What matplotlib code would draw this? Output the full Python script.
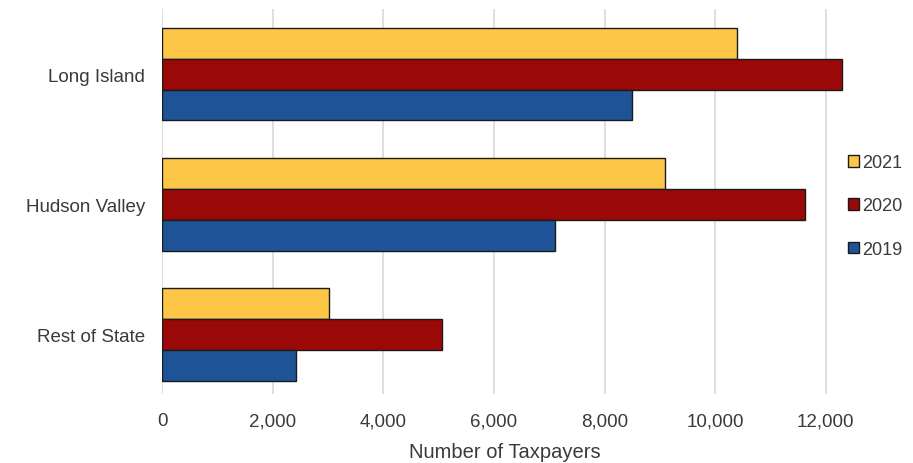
import numpy as np
import matplotlib
matplotlib.use("Agg")
import matplotlib.pyplot as plt

plt.rcParams['font.family'] = ['Liberation Sans', 'DejaVu Sans']

# values
regions = ["Long Island", "Hudson Valley", "Rest of State"]
years = ["2021", "2020", "2019"]
vals_2021 = [10400, 9100, 3020]
vals_2020 = [12300, 11620, 5060]
vals_2019 = [8500, 7100, 2420]
colors = {"2021": "#FDC646", "2020": "#9A0808", "2019": "#1E5398"}
xticks = [0, 2000, 4000, 6000, 8000, 10000, 12000]

series = {"2021": vals_2021, "2020": vals_2020, "2019": vals_2019}

fig = plt.figure(figsize=(9.13, 4.64), dpi=100)
ax = fig.add_axes([162 / 913, 1 - 395 / 464, 686 / 913, 385 / 464])

y = np.arange(len(regions))
h = 0.238
offsets = {"2021": -h, "2020": 0.0, "2019": h}
bars = {}
for yr in years:
    bars[yr] = ax.barh(y + offsets[yr], series[yr], height=h, color=colors[yr],
                       edgecolor="#1a1a1a", linewidth=1.0, label=yr, zorder=3)

ax.set_xlim(0, 12400)
ax.set_ylim(2.46, -0.5)
ax.set_xticks(xticks)
ax.set_xticklabels(["{:,}".format(t) for t in xticks])
ax.set_yticks(y)
ax.set_yticklabels(regions)
ax.grid(axis="x", color="#d9d9d9", linewidth=1.2, zorder=0)
ax.tick_params(length=0, labelsize=13.5, labelcolor="#3a3a3a")
ax.tick_params(axis="x", pad=13)
ax.tick_params(axis="y", pad=12)
for s in ax.spines.values():
    s.set_visible(False)
ax.set_xlabel("Number of Taxpayers", fontsize=14.5, color="#3a3a3a", labelpad=9)

leg = fig.legend(handles=[bars[yr] for yr in years], labels=years,
                 loc="center left", bbox_to_anchor=(848 / 913, 1 - 207 / 464),
                 frameon=False, fontsize=13, handlelength=0.6, handleheight=0.6,
                 handletextpad=0.2, labelspacing=1.45, borderpad=0, borderaxespad=0)
for t in leg.get_texts():
    t.set_color("#3a3a3a")

fig.savefig("out.png", dpi=100)
